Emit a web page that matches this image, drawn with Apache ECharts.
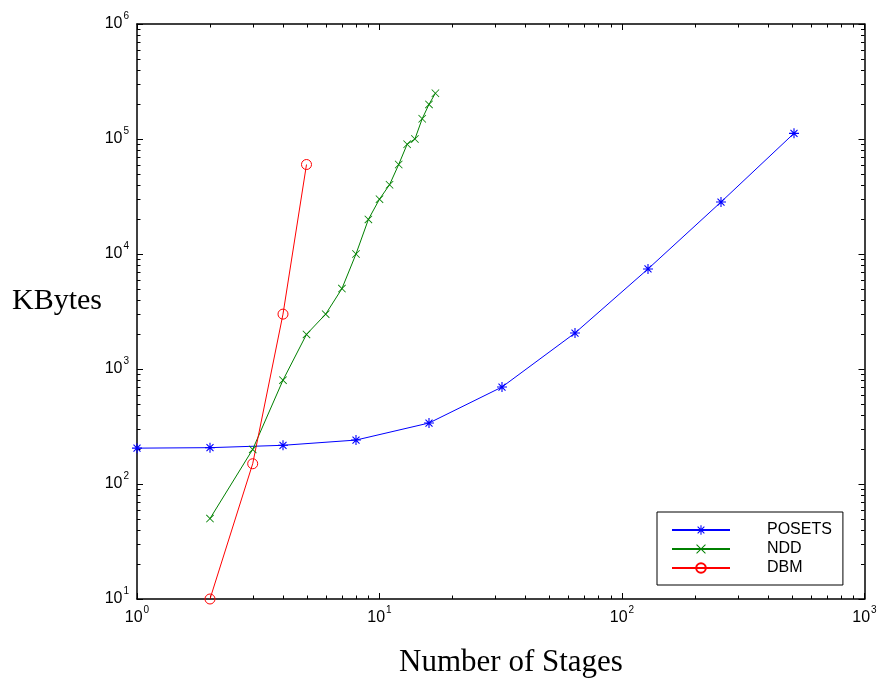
<!DOCTYPE html>
<html>
<head>
<meta charset="utf-8">
<script src="https://cdn.jsdelivr.net/npm/echarts@6/dist/echarts.min.js"></script>
<style>
html,body{margin:0;padding:0;background:#fff}
#main{width:880px;height:683px}
</style>
</head>
<body>
<div id="main"></div>
<script>
// data
var posetsX=[1,2,4,8,16,32,64,128,256,512];
var posetsY=[205,207,217,241,339,697,2055,7410,28300,112000];
var nddX=[2,3,4,5,6,7,8,9,10,11,12,13,14,15,16,17];
var nddY=[50,200,800,2000,3000,5000,10000,20000,30000,40000,60000,90000,100000,150000,200000,250000];
var dbmX=[2,3,4,5];
var dbmY=[10,150,3000,60000];
var seriesNames=['POSETS','NDD','DBM'];
var xRange=[1,1000];
var yRange=[10,1000000];

var sans='"Liberation Sans", Arial, sans-serif';
var serif='"Liberation Serif", "Times New Roman", serif';

function pairs(xs,ys){
  return xs.map(function(x,i){return [x,ys[i]];});
}
// thin bars -> filled path (for * and x markers)
function bars(segs,w){
  return 'path://'+segs.map(function(s){
    var dx=s[2]-s[0],dy=s[3]-s[1],L=Math.sqrt(dx*dx+dy*dy);
    var nx=-dy/L*w,ny=dx/L*w;
    return 'M'+(s[0]+nx)+' '+(s[1]+ny)+'L'+(s[2]+nx)+' '+(s[3]+ny)+'L'+(s[2]-nx)+' '+(s[3]-ny)+'L'+(s[0]-nx)+' '+(s[1]-ny)+'Z';
  }).join('');
}
var starSym=bars([[10,0,10,20],[0,10,20,10],[3,3,17,17],[17,3,3,17]],1.1);
var crossSym=bars([[0,0,20,20],[20,0,0,20]],1.1);

function powLabel(v){
  return '{base|10}{sup|'+Math.round(Math.log(v)/Math.LN10)+'}';
}
var labelRich={
  base:{fontSize:16,fontFamily:sans,color:'#000'},
  sup:{fontSize:10,fontFamily:sans,color:'#000',padding:[0,0,15,1]}
};

function logAxis(pos,range,showLabel,margin){
  return {
    type:'log',logBase:10,min:range[0],max:range[1],position:pos,
    axisLine:{show:true,onZero:false,lineStyle:{color:'#000',width:1.5}},
    axisTick:{show:true,inside:true,length:6,lineStyle:{color:'#000',width:1}},
    minorTick:{show:false},
    splitLine:{show:false},
    axisLabel:{show:showLabel,margin:margin,fontSize:16,fontFamily:sans,color:'#000',
               formatter:powLabel,rich:labelRich}
  };
}

var chart=echarts.init(document.getElementById('main'));
var option={
  animation:false,
  backgroundColor:'#fff',
  grid:{left:137,right:15.5,top:24,bottom:84},
  xAxis:[logAxis('bottom',xRange,true,6),logAxis('top',xRange,false,6)],
  yAxis:[logAxis('left',yRange,true,8),logAxis('right',yRange,false,8)],
  legend:{
    orient:'vertical',left:657,top:512,
    itemWidth:58,itemHeight:12,itemGap:3,
    padding:[10,11,9,14],
    borderColor:'#000',borderWidth:1,backgroundColor:'#fff',
    textStyle:{fontFamily:sans,fontSize:16,color:'#000',lineHeight:12,padding:[0,0,0,32]},
    data:seriesNames
  },
  series:[
    {name:seriesNames[0],type:'line',data:pairs(posetsX,posetsY),
     symbol:starSym,symbolSize:10,
     lineStyle:{color:'#0000ff',width:1},itemStyle:{color:'#0000ff'}},
    {name:seriesNames[1],type:'line',data:pairs(nddX,nddY),
     symbol:crossSym,symbolSize:8,
     lineStyle:{color:'#008000',width:1},itemStyle:{color:'#008000'}},
    {name:seriesNames[2],type:'line',data:pairs(dbmX,dbmY),
     symbol:'circle',symbolSize:10,
     lineStyle:{color:'#ff0000',width:1},
     itemStyle:{color:'rgba(0,0,0,0)',borderColor:'#ff0000',borderWidth:1}}
  ]
};
chart.setOption(option);

// minor ticks at 2..9 of each decade, on all four sides, plus axis titles
var gx0=chart.convertToPixel({xAxisIndex:0},xRange[0]);
var gx1=chart.convertToPixel({xAxisIndex:0},xRange[1]);
var gy0=chart.convertToPixel({yAxisIndex:0},yRange[0]);
var gy1=chart.convertToPixel({yAxisIndex:0},yRange[1]);
var els=[];
var mlen=3.5;
function tick(x1,y1,x2,y2){
  els.push({type:'line',silent:true,shape:{x1:x1,y1:y1,x2:x2,y2:y2},style:{stroke:'#000',lineWidth:1}});
}
for(var d=xRange[0];d<xRange[1];d*=10){
  for(var m=2;m<10;m++){
    var px=Math.round(chart.convertToPixel({xAxisIndex:0},m*d))+0.5;
    tick(px,gy0,px,gy0-mlen);
    tick(px,gy1,px,gy1+mlen);
  }
}
for(var e=yRange[0];e<yRange[1];e*=10){
  for(var k=2;k<10;k++){
    var py=Math.round(chart.convertToPixel({yAxisIndex:0},k*e))+0.5;
    tick(gx0,py,gx0+mlen,py);
    tick(gx1,py,gx1-mlen,py);
  }
}
els.push({type:'text',silent:true,x:12,y:301,
  style:{text:'KBytes',fontSize:30,fontFamily:serif,fill:'#000',
         textAlign:'left',align:'left',textVerticalAlign:'middle',verticalAlign:'middle'}});
els.push({type:'text',silent:true,x:511,y:663,
  style:{text:'Number of Stages',fontSize:31,fontFamily:serif,fill:'#000',
         textAlign:'center',align:'center',textVerticalAlign:'middle',verticalAlign:'middle'}});
chart.setOption({graphic:{elements:els}});
</script>
</body>
</html>
